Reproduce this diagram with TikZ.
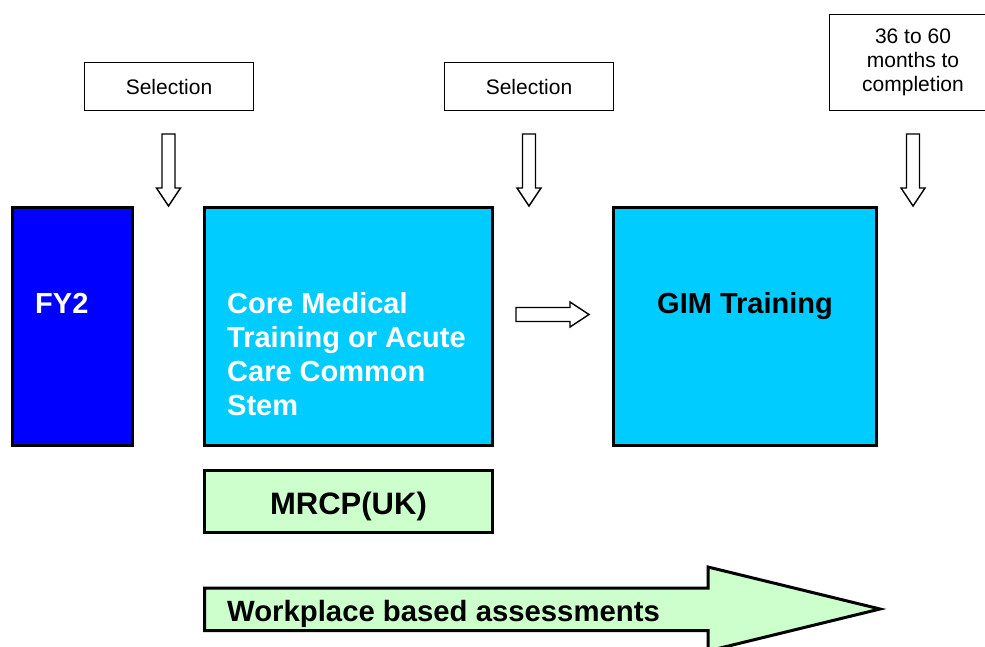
\documentclass[tikz,border=0pt]{standalone}
\usepackage{fontspec}
\setmainfont{Liberation Sans}
\definecolor{fyblue}{RGB}{0,0,255}
\definecolor{cmtcyan}{RGB}{0,204,255}
\definecolor{palegreen}{RGB}{204,255,204}
\newcommand\blockdown[1]{%
  \draw[hollow] (#1-6.5,134) -- (#1+6.5,134) -- (#1+6.5,188) -- (#1+12,188)
    -- (#1,206) -- (#1-12,188) -- (#1-6.5,188) -- cycle;}
\begin{document}
\begin{tikzpicture}[x=1pt,y=-1pt,
  bigbox/.style={draw, line width=3pt, inner sep=0pt, anchor=center},
  smallbox/.style={draw, line width=1.4pt, inner sep=0pt, anchor=center,
    font=\fontsize{21}{24}\selectfont, align=center},
  hollow/.style={draw, fill=white, line width=1.4pt, line join=miter},
  bigtext/.style={inner sep=0pt, font=\bfseries\fontsize{29}{34}\selectfont},
]
\useasboundingbox (0,0) rectangle (985,647);
\clip (0,0) rectangle (985,647);

% top label boxes
\node[smallbox, minimum width=168.5pt, minimum height=48pt] (sel1) at (169,86.5) {Selection};
\node[smallbox, minimum width=168.5pt, minimum height=48pt] (sel2) at (529,86.5) {Selection};
\node[smallbox, minimum width=167pt, minimum height=96pt] (months) at (913,62.5) {36 to 60\\months to\\completion};

% down block arrows
\blockdown{168.5}
\blockdown{529}
\blockdown{913}

% main boxes
\node[bigbox, fill=fyblue, minimum width=120pt, minimum height=238pt] (fy2) at (72.5,326.5) {};
\node[bigbox, fill=cmtcyan, minimum width=288pt, minimum height=238pt] (cmt) at (348.5,326.5) {};
\node[bigbox, fill=cmtcyan, minimum width=263pt, minimum height=238pt] (gim) at (745,326.5) {};
\node[bigbox, fill=palegreen, minimum width=288pt, minimum height=62pt] (mrcp) at (348.5,501.5) {};

\node[bigtext, text=white, anchor=base west] (fy2t) at (35,313) {FY2};
\node[bigtext, text=white, anchor=base west, align=left] (cmtt) at (227,415)
  {Core Medical\\Training or Acute\\Care Common\\Stem};
\node[bigtext, anchor=base] (gimt) at (745,313) {GIM Training};
\node[bigtext, anchor=base, font=\bfseries\fontsize{31}{36}\selectfont] (mrcpt) at (348.5,514) {MRCP(UK)};

% right block arrow
\draw[hollow] (516,307.5) -- (570,307.5) -- (570,302) -- (589,314.5)
  -- (570,327) -- (570,321.5) -- (516,321.5) -- cycle;

% big arrow
\draw[draw, line width=3pt, fill=palegreen, line join=miter]
  (204.5,588) -- (708,588) -- (708,567) -- (880,609) -- (708,651)
  -- (708,630.5) -- (204.5,630.5) -- cycle;
\node[bigtext, anchor=base west, font=\bfseries\fontsize{29.3}{34}\selectfont] (wba) at (227,621) {Workplace based assessments};
\end{tikzpicture}
\end{document}
